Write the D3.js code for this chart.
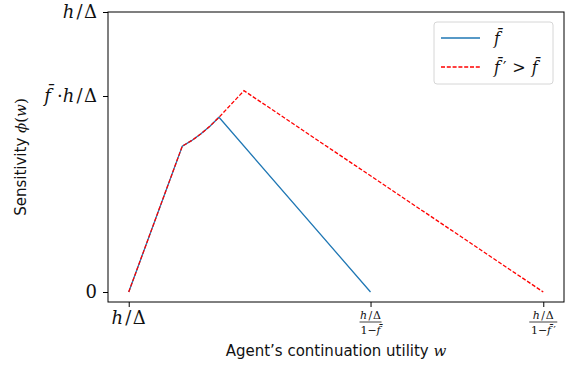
<!DOCTYPE html>
<html>
<head>
<meta charset="utf-8">
<script src="https://cdn.jsdelivr.net/npm/d3@7"></script>
<style>
  html, body { margin: 0; padding: 0; background: #fff; }
  svg { display: block; }
  .math { font-family: "DejaVu Serif", "Liberation Serif", serif; }
  .sans { font-family: "DejaVu Sans", "Open Sans", sans-serif; }
  .prime { font-family: "DejaVu Sans", sans-serif; font-style: normal; }
</style>
</head>
<body>
<svg id="chart" width="568" height="366"></svg>
<script>
// Continuation utility w (in units of h/Δ) and sensitivity φ(w) (in units of h/Δ)
const baseW   = [1, 1.517, 1.606, 1.694, 1.783, 1.871, 3.333];
const basePhi = [0, 0.521, 0.5405, 0.564, 0.592, 0.624, 0];
const highW   = [1, 1.517, 1.606, 1.694, 1.783, 1.871, 2.112, 5];
const highPhi = [0, 0.521, 0.5405, 0.564, 0.592, 0.624, 0.719, 0];

// Tick positions: h/Δ, (h/Δ)/(1−f̄), (h/Δ)/(1−f̄′)  and  0, f̄·h/Δ, h/Δ
const xTickValues = [1, 10 / 3, 5];
const yTickValues = [0, 0.7, 1];

// legend entries: f̄ and f̄′ > f̄ (the prime is set in its own tspan)
const seriesNames = [["f\u0304"], ["f\u0304", "\u2032", ">", "f\u0304"]];

const svg = d3.select("#chart");
const plotL = 108, plotR = 564, plotT = 12, plotB = 302;

const x = d3.scaleLinear().domain([0.8, 5.2]).range([plotL, plotR]);
const y = d3.scaleLinear().domain([-0.0357, 1]).range([plotB, plotT]);

const line = d3.line().x(d => x(d[0])).y(d => y(d[1]));

// frame
svg.append("rect")
  .attr("x", plotL).attr("y", plotT)
  .attr("width", plotR - plotL).attr("height", plotB - plotT)
  .attr("fill", "none").attr("stroke", "#000").attr("stroke-width", 1);

// axes (ticks only; labels are typeset below)
const xAxis = svg.append("g")
  .attr("transform", `translate(0,${plotB})`)
  .call(d3.axisBottom(x).tickValues(xTickValues).tickSize(5).tickSizeOuter(0).tickFormat(""));
const yAxis = svg.append("g")
  .attr("transform", `translate(${plotL},0)`)
  .call(d3.axisLeft(y).tickValues(yTickValues).tickSize(5).tickSizeOuter(0).tickFormat(""));
[xAxis, yAxis].forEach(a => {
  a.select(".domain").remove();
  a.selectAll(".tick line").attr("stroke", "#000").attr("stroke-width", 1);
});

// helper: writes "h/Δ" as italic h + upright /Δ
function hOverDelta(sel, size) {
  sel.append("tspan").attr("font-style", "italic").attr("font-size", size).text("h");
  sel.append("tspan").attr("font-size", size).attr("dx", size * 0.12).text("/");
  sel.append("tspan").attr("font-size", size).attr("dx", size * 0.08).text("\u0394");
}

// helper: writes f̄ with an optional prime
function fBar(sel, size, prime) {
  sel.append("tspan").attr("font-style", "italic").attr("font-size", size).text("f\u0304");
  if (prime) {
    sel.append("tspan").attr("class", "prime").attr("font-size", size * 0.9)
      .attr("dx", size * 0.2).text("\u2032");
  }
}

// y tick labels
const yLab = svg.append("g").attr("class", "math").attr("fill", "#111");
yLab.append("text").attr("x", 97).attr("y", y(0) + 6).attr("text-anchor", "end")
  .attr("font-size", 18).text("0");
const yl1 = yLab.append("text").attr("x", 97).attr("y", y(0.7) + 6).attr("text-anchor", "end");
fBar(yl1, 18, false);
yl1.append("tspan").attr("font-size", 18).attr("dx", 6).text("\u00b7");
yl1.append("tspan").attr("dx", 6).attr("font-size", 18).text("");
hOverDelta(yl1, 18);
const yl2 = yLab.append("text").attr("x", 97).attr("y", y(1) + 6).attr("text-anchor", "end");
hOverDelta(yl2, 18);

// x tick labels
const xLab = svg.append("g").attr("class", "math").attr("fill", "#111");
const xl0 = xLab.append("text").attr("x", x(xTickValues[0])).attr("y", 324).attr("text-anchor", "middle");
hOverDelta(xl0, 18);

function fractionLabel(cx, prime, barHalf) {
  const g = xLab.append("g");
  const num = g.append("text").attr("x", cx).attr("y", 319).attr("text-anchor", "middle");
  hOverDelta(num, 11);
  g.append("line")
    .attr("x1", cx - barHalf).attr("x2", cx + barHalf)
    .attr("y1", 322).attr("y2", 322)
    .attr("stroke", "#111").attr("stroke-width", 0.8);
  const den = g.append("text").attr("x", cx).attr("y", 334).attr("text-anchor", "middle");
  den.append("tspan").attr("font-size", 11).text("1\u2212");
  fBar(den, 11, prime);
}
fractionLabel(x(xTickValues[1]), false, 11);
fractionLabel(x(xTickValues[2]), true, 14);

// axis titles
svg.append("text").attr("class", "sans")
  .attr("x", (plotL + plotR) / 2).attr("y", 356).attr("text-anchor", "middle")
  .attr("font-size", 15).attr("fill", "#111")
  .call(t => {
    t.append("tspan").text("Agent\u2019s continuation utility ");
    t.append("tspan").attr("class", "math").attr("font-style", "italic").text("w");
  });

svg.append("text").attr("class", "sans")
  .attr("transform", `translate(26,${(plotT + plotB) / 2}) rotate(-90)`)
  .attr("text-anchor", "middle").attr("font-size", 15).attr("fill", "#111")
  .call(t => {
    t.append("tspan").text("Sensitivity ");
    t.append("tspan").attr("class", "math").attr("font-style", "italic").text("\u03d5");
    t.append("tspan").attr("class", "math").text("(");
    t.append("tspan").attr("class", "math").attr("font-style", "italic").text("w");
    t.append("tspan").attr("class", "math").text(")");
  });

// series
svg.append("path")
  .datum(d3.zip(baseW, basePhi))
  .attr("d", line).attr("fill", "none")
  .attr("stroke", "#1f77b4").attr("stroke-width", 1.3);
svg.append("path")
  .datum(d3.zip(highW, highPhi))
  .attr("d", line).attr("fill", "none")
  .attr("stroke", "#ff0000").attr("stroke-width", 1.3)
  .attr("stroke-dasharray", "4,1.8");

// legend
const lg = svg.append("g");
lg.append("rect").attr("x", 434).attr("y", 22).attr("width", 119).attr("height", 62)
  .attr("rx", 3).attr("fill", "#fff").attr("fill-opacity", 0.8)
  .attr("stroke", "#d6d6d6").attr("stroke-width", 1);
const legendStyles = [
  { stroke: "#1f77b4", dash: null, cy: 38 },
  { stroke: "#ff0000", dash: "4,1.8", cy: 67 }
];
seriesNames.forEach((parts, i) => {
  const s = legendStyles[i];
  lg.append("line").attr("x1", 441).attr("x2", 480).attr("y1", s.cy).attr("y2", s.cy)
    .attr("stroke", s.stroke).attr("stroke-width", 1.3)
    .attr("stroke-dasharray", s.dash);
  const t = lg.append("text").attr("class", "math").attr("x", 494).attr("y", s.cy + 6)
    .attr("font-size", 16).attr("font-style", "italic").attr("fill", "#111");
  t.append("tspan").text(parts[0]);
  if (parts.length > 1) {
    t.append("tspan").attr("class", "prime").attr("font-size", 15)
      .attr("dx", 3).text(parts[1]);
    t.append("tspan").attr("font-style", "normal").attr("dx", 6).text(parts[2]);
    t.append("tspan").attr("dx", 6).text(parts[3]);
  }
});
</script>
</body>
</html>
